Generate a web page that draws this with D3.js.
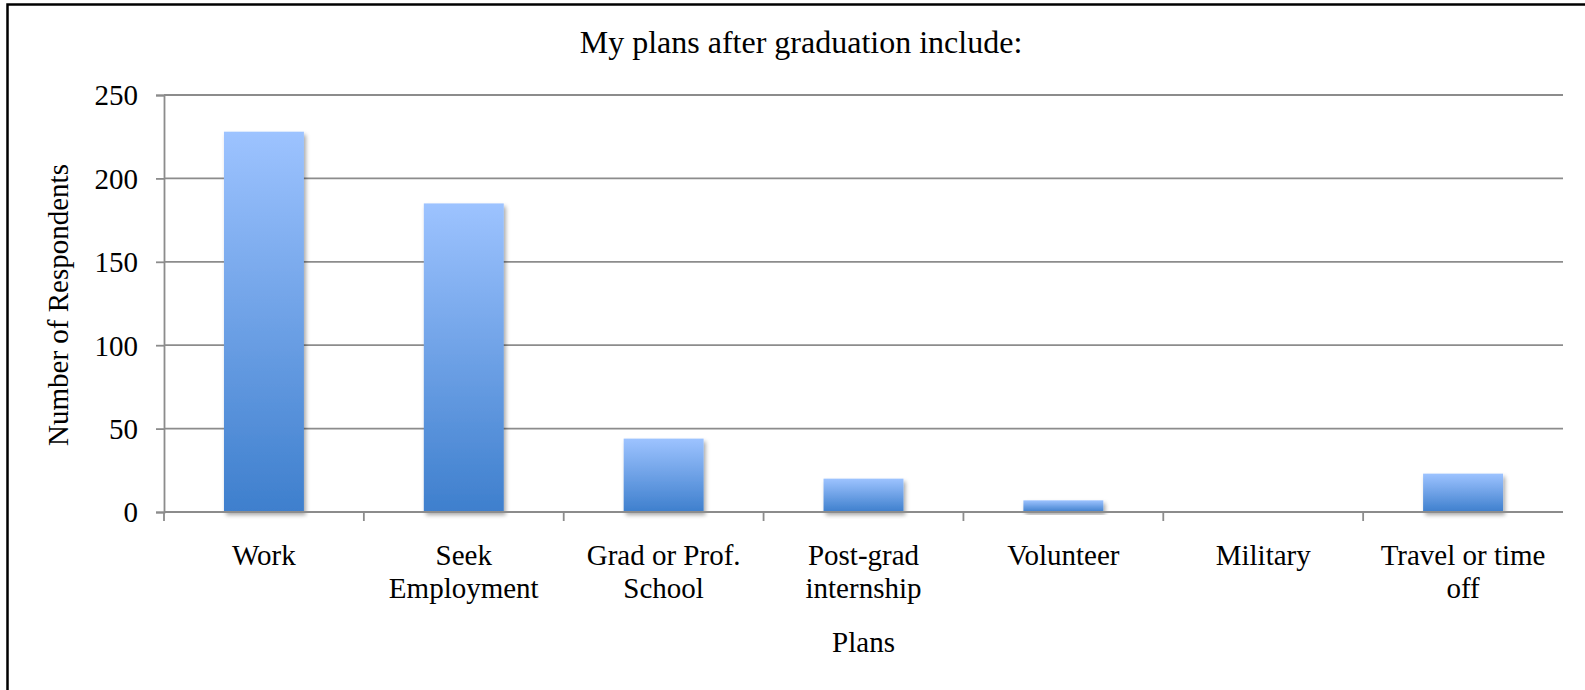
<!DOCTYPE html>
<html>
<head>
<meta charset="utf-8">
<script src="https://cdn.jsdelivr.net/npm/d3@7"></script>
<style>
  html, body { margin: 0; padding: 0; background: #fff; }
  svg { display: block; }
  svg text { font-family: "Times New Roman", "Liberation Serif", Times, "DejaVu Serif", serif; fill: #000; }
</style>
</head>
<body>
<svg id="chart" width="1585" height="690"></svg>
<script>
// ---- data ----
const categories = [
  ["Work"],
  ["Seek", "Employment"],
  ["Grad or Prof.", "School"],
  ["Post-grad", "internship"],
  ["Volunteer"],
  ["Military"],
  ["Travel or time", "off"]
];
const values = [228, 185, 44, 20, 7, 0, 23];
const yTicks = [0, 50, 100, 150, 200, 250];
const titleText = "My plans after graduation include:";
const yTitle = "Number of Respondents";
const xTitle = "Plans";

// ---- layout ----
const W = 1585, H = 690;
const plot = { left: 164, right: 1563, top: 95, bottom: 512 };
const FONT = '"Times New Roman", "Liberation Serif", Times, "DejaVu Serif", serif';

const svg = d3.select("#chart");

// frame border
svg.append("rect")
  .attr("x", 7.5).attr("y", 4.5)
  .attr("width", W + 20).attr("height", H + 20)
  .attr("fill", "none").attr("stroke", "#000").attr("stroke-width", 2.5);

const defs = svg.append("defs");
const grad = defs.append("linearGradient")
  .attr("id", "barGrad").attr("x1", 0).attr("y1", 0).attr("x2", 0).attr("y2", 1);
grad.append("stop").attr("offset", "0%").attr("stop-color", "#9DC3FF");
grad.append("stop").attr("offset", "100%").attr("stop-color", "#3E7FCD");

const filt = defs.append("filter").attr("id", "shadow")
  .attr("x", "-20%").attr("y", "-20%").attr("width", "140%").attr("height", "140%");
filt.append("feDropShadow")
  .attr("dx", 2).attr("dy", 3).attr("stdDeviation", 2.2)
  .attr("flood-color", "#000").attr("flood-opacity", 0.35);

const keys = categories.map((c, i) => i);
const x = d3.scaleBand().domain(keys).range([plot.left, plot.right]).padding(0);
const y = d3.scaleLinear().domain([0, 250]).range([plot.bottom, plot.top]);

// gridlines
svg.append("g")
  .selectAll("line")
  .data(yTicks.filter(t => t > 0))
  .join("line")
  .attr("x1", plot.left).attr("x2", plot.right)
  .attr("y1", d => y(d)).attr("y2", d => y(d))
  .attr("stroke", "#8c8c8c").attr("stroke-width", 1.8);

// bars
const barFrac = 0.4;
svg.append("g")
  .selectAll("rect")
  .data(values)
  .join("rect")
  .attr("x", (d, i) => x(i) + x.bandwidth() * (1 - barFrac) / 2)
  .attr("width", x.bandwidth() * barFrac)
  .attr("y", d => y(d))
  .attr("height", d => plot.bottom - y(d))
  .attr("fill", "url(#barGrad)")
  .attr("filter", "url(#shadow)");

// y axis
const yAxis = d3.axisLeft(y).tickValues(yTicks).tickSize(8).tickPadding(18);
const gy = svg.append("g").attr("transform", `translate(${plot.left},0)`).call(yAxis);
gy.attr("font-family", FONT).attr("font-size", 29);
gy.select(".domain").attr("stroke", "#8c8c8c").attr("stroke-width", 1.8);
gy.selectAll(".tick line").attr("stroke", "#8c8c8c").attr("stroke-width", 1.8);
gy.selectAll(".tick text")
  .style("font-family", FONT)
  .style("font-size", "29px").attr("fill", "#000").attr("dy", "0.34em");

// x axis line
svg.append("line")
  .attr("x1", plot.left).attr("x2", plot.right)
  .attr("y1", plot.bottom).attr("y2", plot.bottom)
  .attr("stroke", "#8c8c8c").attr("stroke-width", 1.8);

// x ticks at category boundaries
const bounds = keys.map(i => x(i));
svg.append("g")
  .selectAll("line")
  .data(bounds)
  .join("line")
  .attr("x1", d => d).attr("x2", d => d)
  .attr("y1", plot.bottom).attr("y2", plot.bottom + 9)
  .attr("stroke", "#8c8c8c").attr("stroke-width", 1.8);

// category labels
const lab = svg.append("g")
  .selectAll("text")
  .data(categories)
  .join("text")
  .attr("text-anchor", "middle")
  .style("font-family", FONT)
  .style("font-size", "29px");
lab.each(function(lines, i) {
  const t = d3.select(this);
  lines.forEach((ln, j) => {
    t.append("tspan")
      .attr("x", x(i) + x.bandwidth() / 2)
      .attr("y", 565 + j * 33)
      .text(ln);
  });
});

// title
svg.append("text")
  .attr("x", 801).attr("y", 53)
  .attr("text-anchor", "middle")
  .style("font-family", FONT)
  .style("font-size", "32px")
  .text(titleText);

// y title
svg.append("text")
  .attr("transform", `translate(68,305) rotate(-90)`)
  .attr("text-anchor", "middle")
  .style("font-family", FONT)
  .style("font-size", "29px")
  .text(yTitle);

// x title
svg.append("text")
  .attr("x", (plot.left + plot.right) / 2).attr("y", 652)
  .attr("text-anchor", "middle")
  .style("font-family", FONT)
  .style("font-size", "29px")
  .text(xTitle);
</script>
</body>
</html>
